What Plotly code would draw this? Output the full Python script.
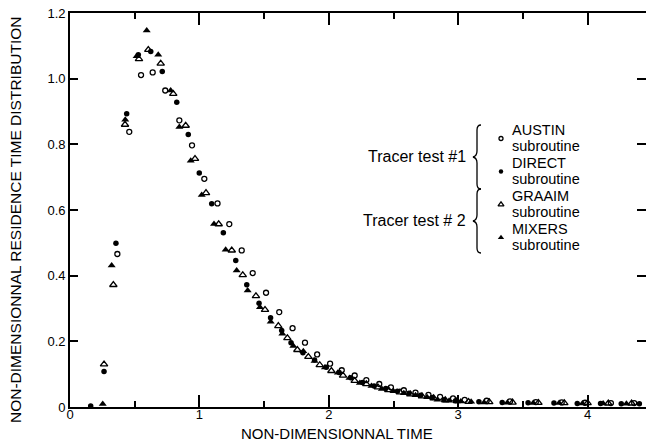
import plotly.graph_objects as go

# ---- data: non-dimensional time vs. residence time distribution ----
austin_t = [0.366, 0.458, 0.549, 0.639, 0.736, 0.845, 0.943, 1.038,
            1.14, 1.231, 1.327, 1.412, 1.515, 1.617, 1.72, 1.816,
            1.91, 2.01, 2.10, 2.20, 2.29, 2.39, 2.48, 2.58,
            2.67, 2.77, 2.86, 2.96, 3.05,
            3.22, 3.40, 3.60, 3.80, 3.98, 4.18, 4.36]
austin_y = [0.466, 0.838, 1.011, 1.019, 0.964, 0.873, 0.797, 0.695,
            0.620, 0.557, 0.477, 0.408, 0.348, 0.289, 0.240, 0.196,
            0.160, 0.132, 0.112, 0.096, 0.082, 0.070, 0.060, 0.051,
            0.044, 0.037, 0.031, 0.026, 0.022,
            0.019, 0.017, 0.015, 0.014, 0.013, 0.012, 0.012]

direct_t = [0.16, 0.263, 0.355, 0.438, 0.528, 0.624, 0.713, 0.825, 0.914, 0.999,
            1.095, 1.185, 1.281, 1.366, 1.461, 1.55, 1.636, 1.708, 1.80, 1.89,
            1.98, 2.08, 2.17, 2.26, 2.35, 2.44, 2.53, 2.62, 2.71, 2.80,
            2.89, 2.98, 3.16, 3.34, 3.54, 3.74, 3.92, 4.10, 4.26, 4.40]
direct_y = [0.003, 0.108, 0.499, 0.893, 1.073, 1.083, 1.022, 0.928, 0.830, 0.713,
            0.619, 0.531, 0.446, 0.372, 0.316, 0.272, 0.233, 0.196, 0.165, 0.143,
            0.121, 0.105, 0.089, 0.075, 0.064, 0.056, 0.048, 0.042, 0.036, 0.029,
            0.022, 0.019, 0.016, 0.014, 0.013, 0.012, 0.011, 0.011, 0.010, 0.010]

graaim_t = [0.263, 0.335, 0.425, 0.533, 0.605, 0.701, 0.798, 0.894, 0.966, 1.051,
            1.149, 1.250, 1.335, 1.437, 1.507, 1.610, 1.68, 1.757, 1.842, 1.93,
            2.02, 2.11, 2.20, 2.29, 2.38, 2.46, 2.55, 2.63, 2.72, 2.81,
            2.90, 2.99, 3.08, 3.24, 3.42, 3.62, 3.82, 4.00, 4.16, 4.34]
graaim_y = [0.130, 0.372, 0.860, 1.060, 1.088, 1.046, 0.954, 0.857, 0.756, 0.652,
            0.557, 0.477, 0.402, 0.338, 0.296, 0.247, 0.210, 0.174, 0.153, 0.128,
            0.110, 0.096, 0.080, 0.070, 0.060, 0.052, 0.045, 0.039, 0.033, 0.027,
            0.021, 0.018, 0.016, 0.015, 0.014, 0.013, 0.012, 0.012, 0.011, 0.011]

mixers_t = [0.253, 0.322, 0.427, 0.515, 0.593, 0.682, 0.778, 0.845, 0.933, 1.018,
            1.113, 1.203, 1.288, 1.373, 1.468, 1.551, 1.641, 1.726, 1.803, 1.89,
            1.97, 2.07, 2.16, 2.24, 2.33, 2.41, 2.50, 2.58, 2.67, 2.76,
            2.84, 2.93, 3.02, 3.10, 3.20, 3.38, 3.58, 3.78, 3.96, 4.12, 4.30]
mixers_y = [0.009, 0.431, 0.875, 1.068, 1.147, 1.073, 0.964, 0.853, 0.750, 0.646,
            0.557, 0.479, 0.416, 0.355, 0.304, 0.260, 0.223, 0.186, 0.170, 0.140,
            0.120, 0.104, 0.088, 0.073, 0.064, 0.055, 0.048, 0.042, 0.036, 0.030,
            0.022, 0.019, 0.017, 0.016, 0.014, 0.013, 0.012, 0.012, 0.011, 0.011, 0.010]

series_names = ["AUSTIN", "DIRECT", "GRAAIM", "MIXERS"]
tracer_labels = ["Tracer test #1", "Tracer test # 2"]
x_ticks = [0, 1, 2, 3, 4]
x_minor = [0.5, 1.5, 2.5, 3.5]
y_ticks = [0, 0.2, 0.4, 0.6, 0.8, 1.0, 1.2]
y_ticktext = ["0", "0.2", "0.4", "0.6", "0.8", "1.0", "1.2"]

# ---- styling ----
FONT = "Liberation Sans, Arial, Helvetica, sans-serif"
W, H = 646, 442
ML, MR, MT, MB = 70, 0, 13, 35
PW, PH = W - ML - MR, H - MT - MB

def px(xp):
    return (xp - ML) / PW

def py(yp):
    return (H - MB - yp) / PH

styles = {
    "AUSTIN": dict(symbol="circle-open", size=5, color="black", line=dict(width=1.3, color="black")),
    "DIRECT": dict(symbol="circle", size=5.5, color="black", line=dict(width=0)),
    "GRAAIM": dict(symbol="triangle-up-open", size=6.5, color="black", line=dict(width=1.3, color="black")),
    "MIXERS": dict(symbol="triangle-up", size=7, color="black", line=dict(width=0)),
}
data = {
    "AUSTIN": (austin_t, austin_y),
    "DIRECT": (direct_t, direct_y),
    "GRAAIM": (graaim_t, graaim_y),
    "MIXERS": (mixers_t, mixers_y),
}

fig = go.Figure()
for name in series_names:
    t, y = data[name]
    fig.add_trace(go.Scatter(x=t, y=y, mode="markers", name=name,
                             marker=styles[name], cliponaxis=False,
                             showlegend=False, hoverinfo="x+y+name"))

# empty trace so the mirrored top/right axes are drawn
fig.add_trace(go.Scatter(x=[None], y=[None], xaxis="x2", yaxis="y2",
                         showlegend=False, hoverinfo="skip"))

# key markers, placed in a 0..1 overlay frame
key_line1 = [129.5 + 33 * i for i in range(4)]
key_marker_y = [py(v + 9) for v in key_line1]
for i, name in enumerate(series_names):
    st = dict(styles[name])
    st["size"] = st["size"] * 0.8
    fig.add_trace(go.Scatter(x=[px(501)], y=[key_marker_y[i]], mode="markers",
                             xaxis="x3", yaxis="y3", marker=st,
                             showlegend=False, hoverinfo="skip"))

annotations = []
for i, name in enumerate(series_names):
    for j, txt in enumerate([name, "subroutine"]):
        annotations.append(dict(
            x=px(510), y=py(key_line1[i] + 16.5 * j), xref="paper", yref="paper",
            text=txt, showarrow=False, xanchor="left", yanchor="middle",
            font=dict(family=FONT, size=14.5, color="black")))

for lbl, yp in zip(tracer_labels, [156.7, 220.7]):
    annotations.append(dict(
        x=px(468), y=py(yp), xref="paper", yref="paper", text=lbl,
        showarrow=False, xanchor="right", yanchor="middle",
        font=dict(family=FONT, size=16, color="black")))

annotations.append(dict(
    x=px(336.5), y=py(433), xref="paper", yref="paper",
    text="NON-DIMENSIONNAL TIME", showarrow=False,
    xanchor="center", yanchor="middle",
    font=dict(family=FONT, size=15, color="black")))
annotations.append(dict(
    x=px(15), y=py(220), xref="paper", yref="paper",
    text="NON-DIMENSIONNAL RESIDENCE TIME DISTRIBUTION", showarrow=False,
    textangle=-90, xanchor="center", yanchor="middle",
    font=dict(family=FONT, size=15.5, color="black")))

# curly braces grouping the subroutines by tracer test
def brace(top, bottom, xline=477, tip=473, hook=481):
    mid = (top + bottom) / 2
    pts = [("M", hook, top), ("Q", xline, top, xline, top + 5),
           ("L", xline, mid - 6), ("Q", xline, mid - 1, tip, mid),
           ("Q", xline, mid + 1, xline, mid + 6),
           ("L", xline, bottom - 5), ("Q", xline, bottom, hook, bottom)]
    out = []
    for p in pts:
        cmd = p[0]
        coords = p[1:]
        s = " ".join(f"{px(coords[k]):.5f},{py(coords[k + 1]):.5f}" for k in range(0, len(coords), 2))
        out.append(f"{cmd} {s}")
    return " ".join(out)

shapes = [
    dict(type="path", xref="paper", yref="paper", path=brace(125, 189),
         line=dict(color="black", width=1.3)),
    dict(type="path", xref="paper", yref="paper", path=brace(189, 253),
         line=dict(color="black", width=1.3)),
]

tickfont = dict(family=FONT, size=13, color="black")
fig.update_layout(
    width=W, height=H, margin=dict(l=ML, r=MR, t=MT, b=MB, pad=0),
    paper_bgcolor="white", plot_bgcolor="white",
    annotations=annotations, shapes=shapes,
    xaxis=dict(range=[0, PW / 129.4], showgrid=False, zeroline=False,
               showline=True, linecolor="black", linewidth=1.6,
               tickvals=x_ticks, ticktext=[str(v) for v in x_ticks],
               ticks="inside", ticklen=12, tickwidth=1.5, tickcolor="black",
               ticklabelstandoff=-5,
               minor=dict(tickvals=x_minor, ticks="inside", ticklen=6,
                          tickwidth=1.5, tickcolor="black", showgrid=False),
               tickfont=tickfont),
    yaxis=dict(range=[0, 1.2], showgrid=False, zeroline=False,
               showline=True, linecolor="black", linewidth=1.6,
               tickvals=y_ticks, ticktext=y_ticktext,
               ticks="inside", ticklen=8, tickwidth=1.5, tickcolor="black",
               tickfont=tickfont),
    xaxis2=dict(overlaying="x", side="top", anchor="y2", matches="x",
                range=[0, PW / 129.4], showgrid=False, zeroline=False,
                showline=True, linecolor="black", linewidth=1.6,
                tickvals=x_ticks[1:], showticklabels=False,
                ticks="inside", ticklen=12, tickwidth=1.5, tickcolor="black",
                minor=dict(tickvals=x_minor, ticks="inside", ticklen=6,
                           tickwidth=1.5, tickcolor="black", showgrid=False)),
    yaxis2=dict(overlaying="y", side="right", anchor="x2",
                range=[0, 1.2], showgrid=False, zeroline=False,
                showline=False, tickvals=y_ticks[1:-1], showticklabels=False,
                ticks="inside", ticklen=9, tickwidth=1.5, tickcolor="black"),
    xaxis3=dict(overlaying="x", range=[0, 1], visible=False),
    yaxis3=dict(overlaying="y", range=[0, 1], visible=False),
)

fig.write_html("out.html")
